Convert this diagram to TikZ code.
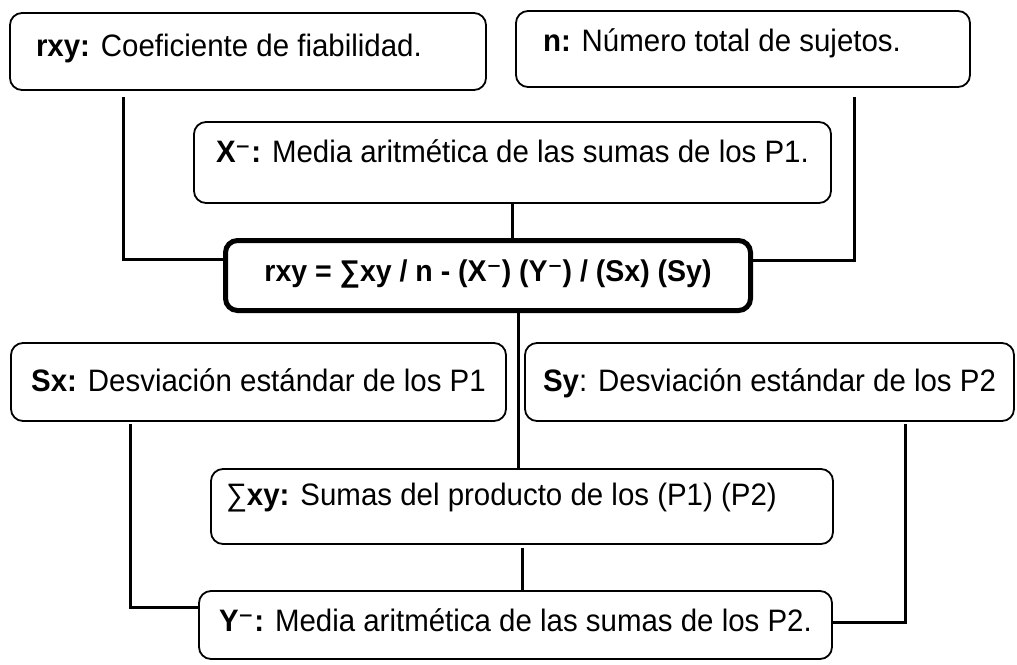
\documentclass[tikz,border=0pt]{standalone}
\usepackage{fontspec}
\setmainfont{Liberation Sans}[FakeStretch=0.95]
\newfontfamily\supfont{DejaVu Sans}[FakeStretch=0.95]
\newcommand{\supmin}{{\supfont ⁻}}

\begin{document}
\begin{tikzpicture}[x=1pt,y=-1pt,
    box/.style={draw, rounded corners=12pt, line width=1.8pt, inner sep=0pt,
      text height=24pt, font=\fontsize{31}{37}\selectfont},
    formbox/.style={box, line width=5pt, font=\fontsize{30}{36}\selectfont},
    link/.style={line width=3pt}]
        \useasboundingbox (0,0) rectangle (1017,664);

        % Top row
        \node[box, text depth=15pt, minimum width=476pt, minimum height=77pt, text width=424pt, align=flush left] (rxy) at (248,51.5) {\textbf{rxy:} Coeficiente de fiabilidad.};
        \node[box, text depth=19pt, minimum width=454pt, minimum height=76pt, text width=400pt, align=flush left] (n) at (743,49) {\textbf{n:} Número total de sujetos.};

        % Mean of P1
        \node[box, text depth=25pt, minimum width=637pt, minimum height=81pt] (xbar) at (512.5,162.5) {\textbf{X\supmin:} Media aritmética de las sumas de los P1.};

        % Formula
        \node[formbox, text depth=13pt, minimum width=525pt, minimum height=70pt] (form) at (488,275.5) {\textbf{rxy = ∑xy / n - (X\supmin) (Y\supmin) / (Sx) (Sy)}};

        % Deviations
        \node[box, text depth=5pt, minimum width=495pt, minimum height=78pt] (sx) at (258.5,382) {\textbf{Sx:} Desviación estándar de los P1};
        \node[box, text depth=5pt, minimum width=489pt, minimum height=78pt] (sy) at (769.5,382) {\textbf{Sy}: Desviación estándar de los P2};

        % Sum of products and mean of P2
        \node[box, text depth=27pt, minimum width=622pt, minimum height=75pt, text width=592pt, align=flush left] (sxy) at (522,506.5) {∑\textbf{xy:} Sumas del producto de los (P1) (P2)};
        \node[box, text depth=11pt, minimum width=633pt, minimum height=68pt] (ybar) at (515.5,625) {\textbf{Y\supmin:} Media aritmética de las sumas de los P2.};

        % Connectors
        \coordinate (r1) at (123,97);
        \coordinate (n1) at (854,97);
        \coordinate (s1) at (130,424);
        \coordinate (s2) at (905,424);
        \draw[link] (r1) |- ([yshift=16pt]form.west);
        \draw[link] (n1) |- ([yshift=15pt]form.east);
        \draw[link] (xbar.south) -- (xbar.south |- form.north);
        \draw[link] ([xshift=-4pt]sxy.north) -- ([xshift=-4pt]sxy.north |- form.south);
        \draw[link] (s1) |- ([yshift=18pt]ybar.west);
        \draw[link] (s2) |- ([yshift=3pt]ybar.east);
        \draw[link] ([yshift=-3pt]sxy.south) -- (sxy.south |- ybar.north);

\end{tikzpicture}
\end{document}
